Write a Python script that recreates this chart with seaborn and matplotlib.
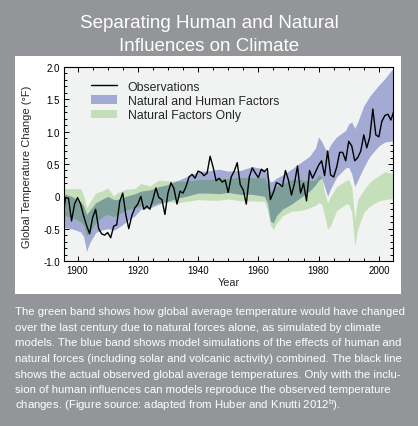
import numpy as np
import pandas as pd
import matplotlib
matplotlib.use("Agg")
import matplotlib.pyplot as plt
import seaborn as sns
from matplotlib.patches import Patch, Rectangle
from matplotlib.lines import Line2D
from matplotlib.ticker import MultipleLocator, FixedLocator, FixedFormatter
from matplotlib import font_manager

# observed global temperature change (deg F), one value per year
obs_years = list(range(1895, 2006))
obs_temp = [-0.40, -0.02, -0.03, -0.38, -0.12, -0.02, -0.12, -0.30, -0.45, -0.58,
            -0.33, -0.20, -0.50, -0.58, -0.60, -0.56, -0.64, -0.46, -0.44, -0.08,
            0.05, -0.28, -0.50, -0.30, -0.18, -0.12, 0.00, -0.20, -0.15, -0.20,
            -0.05, 0.13, -0.02, -0.05, -0.28, 0.05, 0.21, 0.12, -0.12, 0.08,
            0.05, 0.15, 0.30, 0.34, 0.28, 0.39, 0.37, 0.32, 0.36, 0.62,
            0.45, 0.24, 0.28, 0.22, 0.25, 0.06, 0.30, 0.39, 0.52, 0.18,
            0.10, -0.12, 0.30, 0.44, 0.36, 0.29, 0.42, 0.38, 0.43, -0.05,
            0.06, 0.21, 0.19, 0.15, 0.40, 0.25, 0.02, 0.20, 0.47, 0.05,
            0.20, -0.07, 0.40, 0.28, 0.38, 0.48, 0.55, 0.32, 0.70, 0.33,
            0.30, 0.45, 0.68, 0.68, 0.55, 0.85, 0.78, 0.55, 0.60, 0.70,
            0.95, 0.75, 0.92, 1.35, 0.95, 0.92, 1.16, 1.25, 1.27, 1.18,
            1.32]

# model ranges (deg F)
band_years = [1895, 1898, 1901, 1902, 1903, 1904, 1906, 1908, 1910, 1912, 1913,
              1916, 1919, 1921, 1924, 1927, 1930, 1933, 1936, 1940, 1944,
              1947, 1950, 1954, 1958, 1962, 1963, 1964, 1965, 1966, 1968,
              1971, 1974, 1977, 1979, 1980, 1981, 1982, 1983, 1984, 1986,
              1989, 1990, 1991, 1992, 1993, 1995, 1997, 2000, 2002, 2005]
human_lo = [-0.48, -0.50, -0.55, -0.62, -0.85, -0.72, -0.56, -0.52, -0.50, -0.52, -0.50,
            -0.40, -0.30, -0.20, -0.18, -0.12, -0.08, -0.03, 0.00, 0.05, 0.05,
            0.04, 0.06, 0.03, 0.03, 0.00, -0.10, -0.38, -0.41, -0.30, -0.20,
            -0.12, -0.02, 0.08, 0.18, 0.25, 0.28, 0.15, 0.00, 0.12, 0.30,
            0.44, 0.45, 0.35, 0.15, 0.25, 0.45, 0.62, 0.78, 0.84, 0.86]
human_hi = [0.05, 0.00, -0.08, -0.15, -0.28, -0.22, -0.10, -0.05, 0.00, -0.05, -0.05,
            0.00, 0.04, 0.08, 0.10, 0.15, 0.18, 0.24, 0.30, 0.38, 0.40,
            0.42, 0.39, 0.40, 0.46, 0.42, 0.35, 0.22, 0.24, 0.28, 0.33,
            0.42, 0.52, 0.62, 0.75, 0.92, 0.85, 0.75, 0.70, 0.80, 0.92,
            1.02, 1.12, 1.15, 1.05, 1.15, 1.40, 1.55, 1.72, 1.82, 2.00]
natural_lo = [-0.30, -0.32, -0.40, -0.45, -0.62, -0.55, -0.42, -0.33, -0.28, -0.32, -0.30,
              -0.22, -0.18, -0.15, -0.14, -0.10, -0.08, -0.10, -0.08, -0.05, -0.06,
              -0.06, -0.04, -0.07, -0.07, -0.08, -0.20, -0.45, -0.51, -0.42, -0.30,
              -0.23, -0.22, -0.18, -0.14, -0.10, -0.12, -0.30, -0.51, -0.45, -0.22,
              -0.12, -0.12, -0.25, -0.77, -0.50, -0.25, -0.15, -0.07, -0.05, -0.03]
natural_hi = [0.12, 0.12, 0.12, 0.02, -0.18, -0.10, 0.05, 0.08, 0.13, 0.00, 0.05,
              0.11, 0.12, 0.20, 0.16, 0.25, 0.24, 0.24, 0.24, 0.26, 0.27,
              0.28, 0.28, 0.30, 0.29, 0.29, 0.20, 0.08, 0.10, 0.16, 0.20,
              0.26, 0.26, 0.24, 0.26, 0.34, 0.30, 0.05, -0.10, 0.00, 0.15,
              0.24, 0.26, 0.15, -0.35, -0.05, 0.10, 0.22, 0.32, 0.38, 0.35]

y_ticks = [-1.0, -0.5, 0.0, 0.5, 1.0, 1.5, 2.0]
y_tick_labels = ["-1.0", "-0.5", "0", "0.5", "1.0", "1.5", "2.0"]
x_ticks = [1900, 1920, 1940, 1960, 1980, 2000]

legend_labels = ["Observations", "Natural and Human Factors", "Natural Factors Only"]
title_lines = ["Separating Human and Natural", "Influences on Climate"]
caption_lines = [
    "The green band shows how global average temperature would have changed",
    "over the last century due to natural forces alone, as simulated by climate",
    "models. The blue band shows model simulations of the effects of human and",
    "natural forces (including solar and volcanic activity) combined. The black line",
    "shows the actual observed global average temperatures. Only with the inclu-",
    "sion of human influences can models reproduce the observed temperature",
    "changes. (Figure source: adapted from Huber and Knutti 2012$^\\mathrm{b}$).",
]

page_gray = "#939598"
blue = "#a3aad3"
green = "#c5dfba"
overlap = "#7d9f9c"

sns.set_style("ticks")
plt.rcParams["font.family"] = ["Liberation Sans", "DejaVu Sans"]
plt.rcParams["mathtext.fontset"] = "custom"
plt.rcParams["mathtext.rm"] = "Liberation Sans"

names = {f.name for f in font_manager.fontManager.ttflist}
cap_family = "Liberation Sans Narrow" if "Liberation Sans Narrow" in names else "Liberation Sans"

fig = plt.figure(figsize=(4.18, 4.27), dpi=100, facecolor=page_gray)
W, H = 418, 427

# white panel behind the chart
fig.add_artist(Rectangle((15 / W, 1 - 295 / H), (401 - 15) / W, (295 - 57) / H,
                         transform=fig.transFigure, facecolor="white", edgecolor="none", zorder=0))

ax = fig.add_axes([64 / W, 1 - 262 / H, (393 - 64) / W, (262 - 68) / H])
ax.set_facecolor("#f1f2f2")

by = np.array(band_years, dtype=float)
hl, hh = np.array(human_lo), np.array(human_hi)
nl, nh = np.array(natural_lo), np.array(natural_hi)
ax.fill_between(by, hl, hh, color=blue, lw=0)
ax.fill_between(by, nl, nh, color=green, lw=0)
ov_lo, ov_hi = np.maximum(hl, nl), np.minimum(hh, nh)
ax.fill_between(by, ov_lo, ov_hi, where=ov_hi > ov_lo, interpolate=True, color=overlap, lw=0)

df = pd.DataFrame({"Year": obs_years, "Temp": obs_temp})
sns.lineplot(data=df, x="Year", y="Temp", color="black", lw=1.0, ax=ax)

ax.set_xlim(1895.5, 2004.7)
ax.set_ylim(-1.0, 2.0)
ax.xaxis.set_major_locator(FixedLocator(x_ticks))
ax.xaxis.set_minor_locator(MultipleLocator(5))
ax.yaxis.set_major_locator(FixedLocator(y_ticks))
ax.yaxis.set_major_formatter(FixedFormatter(y_tick_labels))
ax.yaxis.set_minor_locator(MultipleLocator(0.1))
ax.tick_params(which="both", direction="in", top=True, right=True, width=0.7, labelsize=7, colors="black")
ax.tick_params(which="major", length=3.5, pad=3)
ax.tick_params(which="minor", length=2)
for s in ax.spines.values():
    s.set_linewidth(0.8)
    s.set_color("black")

ax.set_xlabel("Year", fontsize=7.8)
ax.set_ylabel("Global Temperature Change (°F)", fontsize=8)
ax.xaxis.set_label_coords(0.5, -0.085)
ax.yaxis.set_label_coords(-0.097, 0.49)

handles = [Line2D([], [], color="black", lw=1.0),
           Patch(facecolor=blue, edgecolor="none"),
           Patch(facecolor=green, edgecolor="none")]
ax.legend(handles, legend_labels, loc="upper left", bbox_to_anchor=(0.082, 0.93),
          frameon=False, fontsize=8.8, borderpad=0, borderaxespad=0,
          handlelength=2.1, handletextpad=0.9, labelspacing=0.2)

fig.text(0.5, 1 - 28 / H, title_lines[0], color="white", fontsize=13.5, ha="center", va="baseline")
fig.text(0.5, 1 - 51 / H, title_lines[1], color="white", fontsize=13.5, ha="center", va="baseline")

# caption, sized so the first line spans ~390 px
renderer = fig.canvas.get_renderer()
probe = fig.text(0, 0, caption_lines[0], family=cap_family, fontsize=9)
cap_size = 9 * 390 / probe.get_window_extent(renderer).width
probe.remove()
for i, line in enumerate(caption_lines):
    fig.text(15 / W, 1 - (315 + i * 15.65) / H, line, color="white", family=cap_family,
             fontsize=cap_size, ha="left", va="baseline")

fig.savefig("out.png", dpi=100, facecolor=page_gray)
